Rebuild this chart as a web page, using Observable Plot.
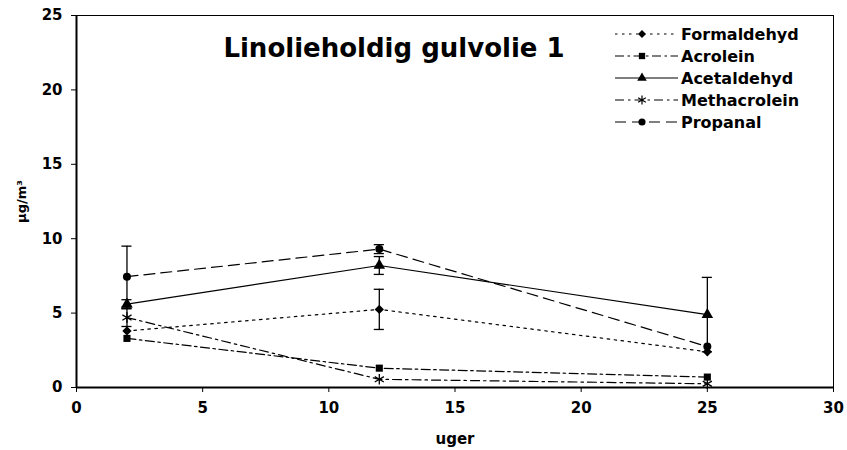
<!DOCTYPE html>
<html>
<head>
<meta charset="utf-8">
<script src="https://cdn.jsdelivr.net/npm/d3@7"></script>
<script src="https://cdn.jsdelivr.net/npm/@observablehq/plot@0.6"></script>
<style>
  html, body { margin: 0; padding: 0; background: #fff; }
  #chart { width: 847px; height: 450px; }
</style>
</head>
<body>
<div id="chart"></div>
<script>
// ---- data ----
const weeks = [2, 12, 25];
const seriesNames = ["Formaldehyd", "Acrolein", "Acetaldehyd", "Methacrolein", "Propanal"];
const formaldehyd = [3.8, 5.25, 2.4];
const acrolein = [3.3, 1.3, 0.7];
const acetaldehyd = [5.6, 8.2, 4.9];
const methacrolein = [4.7, 0.55, 0.25];
const propanal = [7.45, 9.3, 2.75];
const formaldehydErr = [0, 1.35, 0];
const acroleinErr = [0, 0, 0];
const acetaldehydErr = [0.3, 0.6, 2.5];
const methacroleinErr = [0.6, 0, 0];
const propanalErr = [2.05, 0.3, 0];
const xTicks = [0, 5, 10, 15, 20, 25, 30];
const yTicks = [0, 5, 10, 15, 20, 25];
const titleText = "Linolieholdig gulvolie 1";
const xLabel = "uger";
const yLabel = "µg/m³";

const FONT = "'DejaVu Sans', 'Liberation Sans', Arial, sans-serif";

// styles per series
const styles = {
  Formaldehyd: {dash: "2.5,4.5", symbol: "diamond2", r: 4.2},
  Acrolein: {dash: "9,3.5,2.5,3.5", symbol: "square", r: 4},
  Acetaldehyd: {dash: null, symbol: "triangle", r: 4.3},
  Methacrolein: {dash: "9,4,2.5,4", symbol: "asterisk", r: 5},
  Propanal: {dash: "11,6", symbol: "circle", r: 4}
};

const values = [formaldehyd, acrolein, acetaldehyd, methacrolein, propanal];
const errors = [formaldehydErr, acroleinErr, acetaldehydErr, methacroleinErr, propanalErr];
const rows = [];
seriesNames.forEach((name, i) => {
  weeks.forEach((w, j) => rows.push({series: name, x: w, y: values[i][j], err: errors[i][j]}));
});
const errRows = rows.filter(d => d.err > 0);

const marks = [];
marks.push(Plot.frame({stroke: "black", strokeWidth: 1}));
seriesNames.forEach(name => {
  const s = styles[name];
  marks.push(Plot.line(rows.filter(d => d.series === name), {
    x: "x", y: "y", stroke: "black", strokeWidth: 1.2,
    strokeDasharray: s.dash || undefined
  }));
});
marks.push(Plot.ruleX(errRows, {x: "x", y1: d => d.y - d.err, y2: d => d.y + d.err, stroke: "black", strokeWidth: 1.3}));
marks.push(Plot.ruleY(errRows, {y: d => d.y + d.err, x1: d => d.x - 0.2, x2: d => d.x + 0.2, stroke: "black", strokeWidth: 1.3}));
marks.push(Plot.ruleY(errRows, {y: d => d.y - d.err, x1: d => d.x - 0.2, x2: d => d.x + 0.2, stroke: "black", strokeWidth: 1.3}));
seriesNames.forEach(name => {
  const s = styles[name];
  const isStroke = s.symbol === "asterisk";
  marks.push(Plot.dot(rows.filter(d => d.series === name), {
    x: "x", y: "y", symbol: () => s.symbol, r: s.r,
    fill: isStroke ? "none" : "black",
    stroke: isStroke ? "black" : "none",
    strokeWidth: isStroke ? 1.3 : 0
  }));
});
marks.push(Plot.ruleX([0], {stroke: "black", strokeWidth: 2}));
marks.push(Plot.ruleY([0], {stroke: "black", strokeWidth: 2}));
marks.push(Plot.axisX({ticks: xTicks, tickSize: 5, tickPadding: 10, label: xLabel, labelAnchor: "center", labelOffset: 56, labelArrow: "none"}));
marks.push(Plot.axisY({ticks: yTicks, tickSize: 5, tickPadding: 9, label: yLabel, labelAnchor: "center", labelOffset: 60, labelArrow: "none"}));
marks.push(Plot.text([titleText], {frameAnchor: "top", dx: -61, dy: 23, fontSize: 26, fontWeight: "bold", fill: "black", fontFamily: FONT}));

const chart = Plot.plot({
  width: 847,
  height: 450,
  marginLeft: 76,
  marginRight: 14,
  marginTop: 15,
  marginBottom: 63,
  style: {fontFamily: FONT, color: "black", background: "white"},
  x: {domain: [0, 30]},
  y: {domain: [0, 25]},
  symbol: {type: "identity"},
  marks
});

const svg = d3.select(chart);
// tick labels & axis labels: bold
svg.selectAll("[aria-label='x-axis tick label'] text, [aria-label='y-axis tick label'] text")
  .style("font-size", "15px").style("font-weight", "bold").style("font-family", FONT);
svg.selectAll("[aria-label='x-axis label'] text")
  .style("font-size", "15px").style("font-weight", "bold").style("font-family", FONT);
svg.selectAll("[aria-label='y-axis label'] text")
  .style("font-size", "13px").style("font-weight", "bold").style("font-family", FONT);

// legend (drawn into the same svg)
const lg = svg.append("g").attr("aria-label", "legend");
const symMap = {circle: d3.symbolCircle, square: d3.symbolSquare, triangle: d3.symbolTriangle, diamond2: d3.symbolDiamond2, asterisk: d3.symbolAsterisk};
seriesNames.forEach((name, i) => {
  const s = styles[name];
  const y0 = 34 + i * 22;
  lg.append("line").attr("x1", 615).attr("x2", 678).attr("y1", y0).attr("y2", y0)
    .attr("stroke", "black").attr("stroke-width", 1.2)
    .attr("stroke-dasharray", s.dash || null);
  const isStroke = s.symbol === "asterisk";
  lg.append("path").attr("d", d3.symbol(symMap[s.symbol], isStroke ? 55 : 40)())
    .attr("transform", `translate(642,${y0})`)
    .attr("fill", isStroke ? "none" : "black")
    .attr("stroke", isStroke ? "black" : "none").attr("stroke-width", 1.2);
  lg.append("text").attr("x", 681).attr("y", y0).attr("dy", "0.35em")
    .attr("text-anchor", "start")
    .style("font-size", "16px").style("font-weight", "bold").style("font-family", FONT)
    .attr("fill", "black")
    .text(name);
});

document.getElementById("chart").appendChild(chart);
</script>
</body>
</html>
